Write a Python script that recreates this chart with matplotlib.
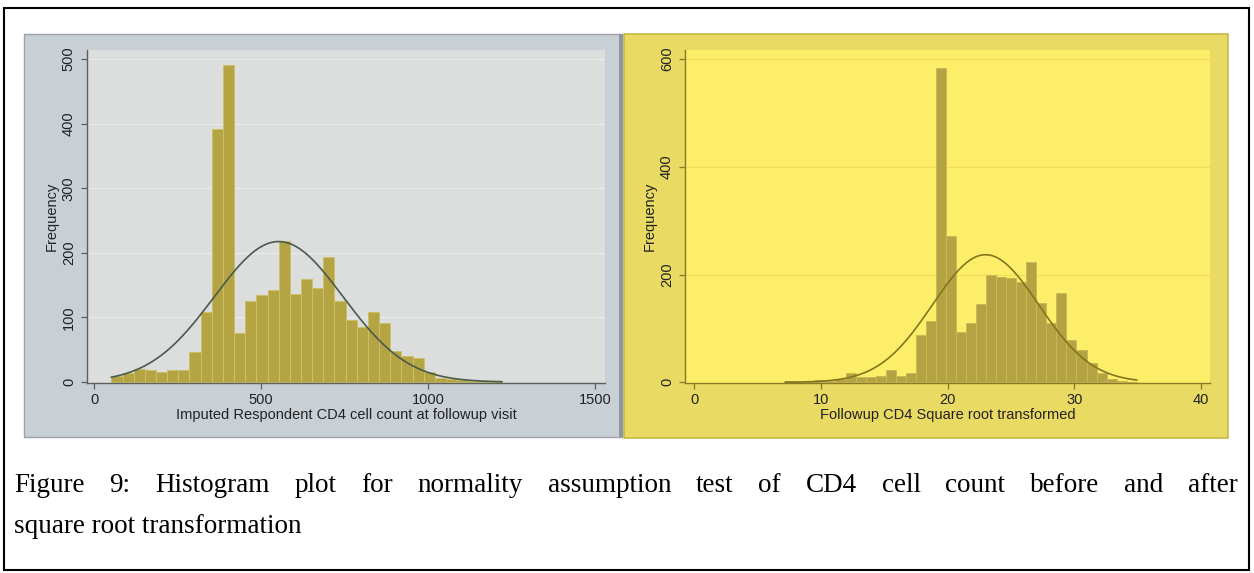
import numpy as np
import matplotlib
matplotlib.use("Agg")
import matplotlib.pyplot as plt
from matplotlib.patches import Rectangle

# ---------------- data ----------------
left_bin_start = 52.0
left_bin_width = 33.4
left_counts = [9, 14, 20, 18, 16, 19, 18, 47, 108, 392, 491, 76, 126, 134, 143,
               218, 137, 159, 145, 194, 126, 96, 85, 109, 91, 48, 40, 37, 16,
               7, 4, 3, 2, 1, 1]
left_mean, left_sd = 553.0, 193.0
left_xticks = [0, 500, 1000, 1500]
left_yticks = [0, 100, 200, 300, 400, 500]
left_xlabel = "Imputed Respondent CD4 cell count at followup visit"

right_bin_start = 7.2
right_bin_width = 0.792
right_counts = [2, 1, 2, 4, 3, 6, 18, 10, 10, 12, 22, 12, 17,
                88, 113, 584, 271, 94, 110, 146, 200, 196, 193, 187, 224,
                147, 110, 165, 79, 60, 35, 17, 7, 3, 1]
right_mean, right_sd = 23.0, 4.2
right_xticks = [0, 10, 20, 30, 40]
right_yticks = [0, 200, 400, 600]
right_xlabel = "Followup CD4 Square root transformed"

ylabel = "Frequency"
caption_line1 = ("Figure 9: Histogram plot for normality assumption test of CD4 "
                 "cell count before and after")
caption_line2 = "square root transformation"

# ---------------- figure ----------------
plt.rcParams["font.family"] = ["Liberation Sans", "DejaVu Sans"]
W, H = 1254, 573
fig = plt.figure(figsize=(W / 100, H / 100), dpi=100)
fig.patch.set_facecolor("white")


def fx(px):
    return px / W


def fy(py):
    return 1 - py / H


def frect(x0, y0, x1, y1, **kw):
    r = Rectangle((fx(x0), fy(y1)), fx(x1) - fx(x0), fy(y0) - fy(y1),
                  transform=fig.transFigure, **kw)
    fig.add_artist(r)
    return r


# outer border
frect(4, 8, 1249, 570, facecolor="none", edgecolor="black", lw=1.5, zorder=0)
# panel backgrounds
frect(24, 34, 622, 437, facecolor="#c9d0d5", edgecolor="#9aa3ac", lw=1.0, zorder=0)
frect(619, 34, 623, 437, facecolor="#8c95a3", edgecolor="none", zorder=0)
frect(624, 34, 1228, 438, facecolor="#e8da62", edgecolor="#c8b846", lw=1.2, zorder=0)

TXT = "#222222"


def make_panel(rect_px, xlim, ylim, counts, start, width, mean, sd,
               xticks, yticks, xlabel, inner_bg, bar_fc, bar_ec, curve_c,
               axis_c, grid_c):
    x0, y0, x1, y1 = rect_px
    ax = fig.add_axes([fx(x0), fy(y1), fx(x1) - fx(x0), fy(y0) - fy(y1)])
    ax.set_facecolor(inner_bg)
    counts = np.asarray(counts, dtype=float)
    lefts = start + width * np.arange(len(counts))
    ax.bar(lefts, counts, width=width, align="edge", color=bar_fc,
           edgecolor=bar_ec, linewidth=0.7, zorder=2)
    n = counts.sum()
    xs = np.linspace(start, start + width * len(counts), 300)
    ys = n * width / (sd * np.sqrt(2 * np.pi)) * np.exp(-0.5 * ((xs - mean) / sd) ** 2)
    ax.plot(xs, ys, color=curve_c, lw=1.2, zorder=3)
    ax.set_xlim(*xlim)
    ax.set_ylim(*ylim)
    ax.set_xticks(xticks)
    ax.set_yticks(yticks)
    for yt in yticks[1:]:
        ax.axhline(yt, color=grid_c, lw=0.9, zorder=1)
    for s in ("top", "right"):
        ax.spines[s].set_visible(False)
    for s in ("left", "bottom"):
        ax.spines[s].set_color(axis_c)
        ax.spines[s].set_linewidth(1.0)
    ax.tick_params(axis="both", color=axis_c, length=4, width=0.9,
                   labelsize=10.5, labelcolor=TXT, pad=3.5)
    ax.tick_params(axis="y", labelrotation=90, pad=4)
    for lab in ax.get_yticklabels():
        lab.set_va("center")
    ax.set_xlabel(xlabel, fontsize=10.5, color=TXT, labelpad=0.5)
    ax.set_ylabel(ylabel, fontsize=10.5, color=TXT, labelpad=2)
    return ax


make_panel((87, 50, 605, 383), (-21, 1530), (-1.5, 514), left_counts,
           left_bin_start, left_bin_width, left_mean, left_sd,
           left_xticks, left_yticks, left_xlabel,
           inner_bg="#dcdddd", bar_fc="#b5a444", bar_ec="#cdbf66",
           curve_c="#4a5a4c", axis_c="#5c6060", grid_c="#e9eaea")

make_panel((685, 50, 1210, 383), (-0.71, 40.7), (-1.3, 617), right_counts,
           right_bin_start, right_bin_width, right_mean, right_sd,
           right_xticks, right_yticks, right_xlabel,
           inner_bg="#fdee6a", bar_fc="#b3a342", bar_ec="#c9b955",
           curve_c="#85741f", axis_c="#8a7a26", grid_c="#efdd5e")

# ---------------- caption (justified first line) ----------------
cap_font = dict(family=["Liberation Serif", "DejaVu Serif"], fontsize=19.5,
                color="black")
renderer = fig.canvas.get_renderer()
words = caption_line1.split(" ")
left_px, right_px = 14, 1238
txts = []
widths = []
for w in words:
    t = fig.text(0, 0, w, va="baseline", ha="left", **cap_font)
    bb = t.get_window_extent(renderer=renderer)
    txts.append(t)
    widths.append(bb.width)
gap = (right_px - left_px - sum(widths)) / (len(words) - 1)
xpos = left_px
for t, wd in zip(txts, widths):
    t.set_position((fx(xpos), fy(492)))
    xpos += wd + gap

fig.text(fx(14), fy(533), caption_line2, va="baseline", ha="left", **cap_font)

fig.savefig("out.png", dpi=100)
